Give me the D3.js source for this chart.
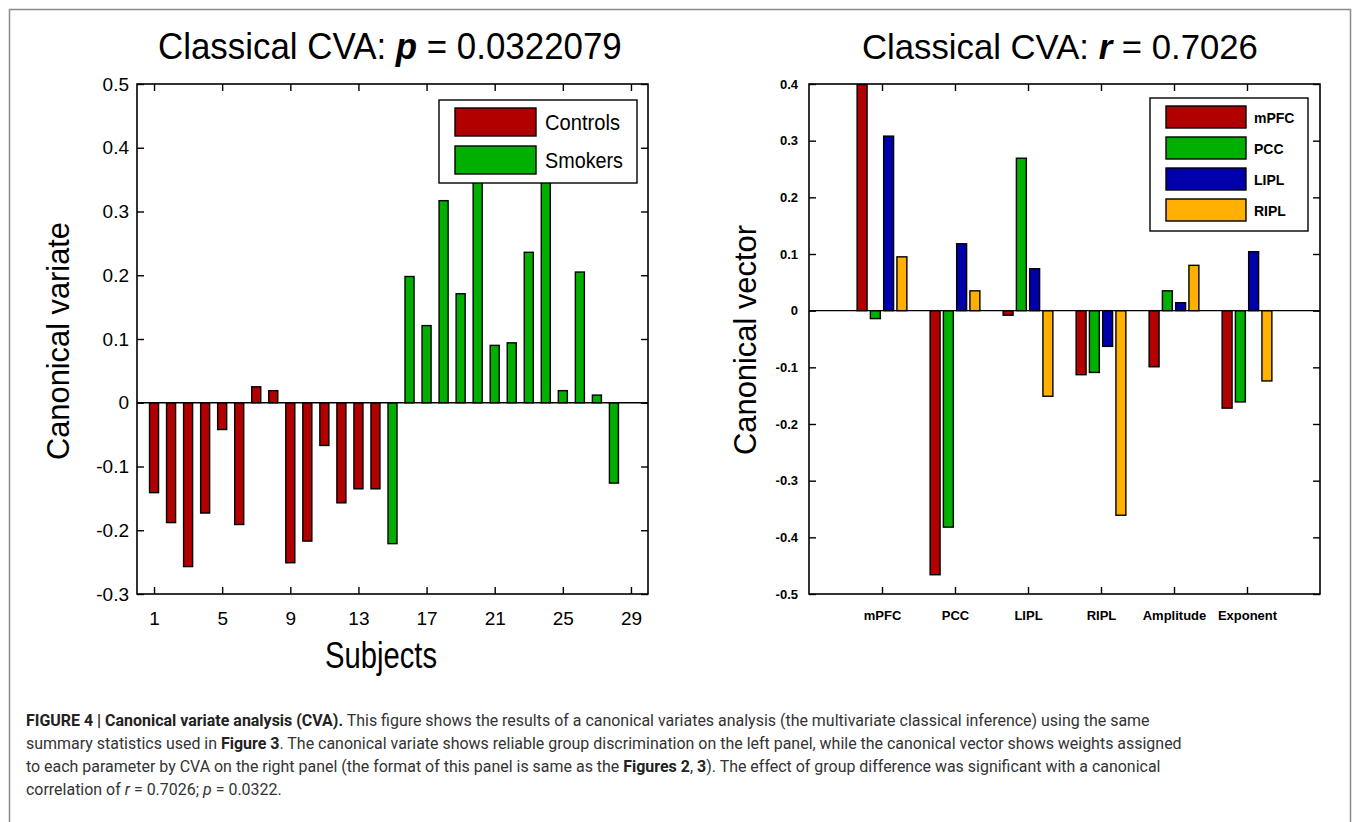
<!DOCTYPE html>
<html>
<head>
<meta charset="utf-8">
<script src="https://cdn.jsdelivr.net/npm/d3@7"></script>
<style>
  body { margin: 0; background: #fff; }
  svg { display: block; }
</style>
</head>
<body>
<svg id="fig" width="1355" height="822"></svg>
<script>
// left panel: canonical variate per subject
var subjects = [1,2,3,4,5,6,7,8,9,10,11,12,13,14,15,16,17,18,19,20,21,22,23,24,25,26,27,28];
var subjectGroup = ["Controls","Controls","Controls","Controls","Controls","Controls","Controls",
    "Controls","Controls","Controls","Controls","Controls","Controls","Controls",
    "Smokers","Smokers","Smokers","Smokers","Smokers","Smokers","Smokers",
    "Smokers","Smokers","Smokers","Smokers","Smokers","Smokers","Smokers"];
var canonVariate = [-0.141, -0.188, -0.257, -0.173, -0.042, -0.191, 0.025, 0.019, -0.251, -0.217,
    -0.067, -0.157, -0.135, -0.135, -0.221, 0.198, 0.121, 0.317, 0.171, 0.37,
    0.090, 0.094, 0.236, 0.39, 0.019, 0.205, 0.012, -0.126];
var groups = ["Controls", "Smokers"];
var xTicksLeft = [1, 5, 9, 13, 17, 21, 25, 29];
var yTicksLeft = [-0.3, -0.2, -0.1, 0, 0.1, 0.2, 0.3, 0.4, 0.5];

// right panel: canonical vector per parameter and region
var params = ["mPFC", "PCC", "LIPL", "RIPL", "Amplitude", "Exponent"];
var regions = ["mPFC", "PCC", "LIPL", "RIPL"];
var vec_mPFC = [0.399, -0.466, -0.008, -0.113, -0.099, -0.172];
var vec_PCC  = [-0.014, -0.382, 0.269, -0.109, 0.035, -0.161];
var vec_LIPL = [0.308, 0.118, 0.074, -0.063, 0.014, 0.104];
var vec_RIPL = [0.095, 0.035, -0.151, -0.361, 0.080, -0.124];
var yTicksRight = [-0.5, -0.4, -0.3, -0.2, -0.1, 0, 0.1, 0.2, 0.3, 0.4];

var groupColor = {Controls: "#b20000", Smokers: "#00b000"};
var regionColor = {mPFC: "#b20000", PCC: "#00b000", LIPL: "#0000aa", RIPL: "#ffb000"};

var svg = d3.select("#fig");
var plotFont = "'Liberation Sans', Arial, sans-serif";
var fmt = function (d) { return (Math.round(d * 10) / 10).toString(); };

// squeeze a text horizontally so it spans the given width (keeps tspans in flow)
function fitText(t, x, y, width) {
    var w = t.node().getComputedTextLength();
    t.attr("transform", "translate(" + x + "," + y + ") scale(" + (width / w) + ",1)");
    return width / w;
}

// outer figure frame
svg.append("rect").attr("x", 9.5).attr("y", 9.5).attr("width", 1341).attr("height", 840)
    .attr("fill", "none").attr("stroke", "#8a8a8a").attr("stroke-width", 1.5);

var box = {top: 84, bottom: 594};

// ---------- left panel ----------
var L = {left: 137, right: 648};
var xL = d3.scaleLinear().domain([0, 30]).range([L.left, L.right]);
var yL = d3.scaleLinear().domain([-0.3, 0.5]).range([box.bottom, box.top]);
var gL = svg.append("g");

var barW = (xL(1) - xL(0)) * 0.53;
gL.selectAll(".bar").data(subjects).enter().append("rect")
    .attr("class", "bar")
    .attr("x", function (d) { return xL(d) - barW / 2; })
    .attr("y", function (d, i) { return yL(Math.max(0, canonVariate[i])); })
    .attr("width", barW)
    .attr("height", function (d, i) { return Math.abs(yL(canonVariate[i]) - yL(0)); })
    .attr("fill", function (d, i) { return groupColor[subjectGroup[i]]; })
    .attr("stroke", "#000").attr("stroke-width", 1.4);

gL.append("line").attr("x1", L.left).attr("x2", L.right).attr("y1", yL(0)).attr("y2", yL(0))
    .attr("stroke", "#000").attr("stroke-width", 1.3);

function styleAxis(g, size, weight) {
    g.select(".domain").remove();
    g.selectAll(".tick line").attr("stroke", "#000").attr("stroke-width", 1.4);
    g.selectAll("text").attr("font-family", plotFont).attr("font-size", size)
        .attr("font-weight", weight).attr("fill", "#000");
}

gL.append("g").attr("transform", "translate(" + L.left + ",0)")
    .call(d3.axisLeft(yL).tickValues(yTicksLeft).tickSize(-7).tickPadding(8).tickFormat(fmt))
    .call(styleAxis, 19, "normal");
gL.append("g").attr("transform", "translate(" + L.right + ",0)")
    .call(d3.axisRight(yL).tickValues(yTicksLeft).tickSize(-7).tickFormat(""))
    .call(styleAxis, 19, "normal");
gL.append("g").attr("transform", "translate(0," + box.bottom + ")")
    .call(d3.axisBottom(xL).tickValues(xTicksLeft).tickSize(-7).tickPadding(18).tickFormat(d3.format("d")))
    .call(styleAxis, 19, "normal");
gL.append("g").attr("transform", "translate(0," + box.top + ")")
    .call(d3.axisTop(xL).tickValues(xTicksLeft).tickSize(-7).tickFormat(""))
    .call(styleAxis, 19, "normal");

gL.append("rect").attr("x", L.left).attr("y", box.top).attr("width", L.right - L.left)
    .attr("height", box.bottom - box.top).attr("fill", "none").attr("stroke", "#000").attr("stroke-width", 1.6);

// legend (drawn over the tallest bars, as in the original)
var legL = gL.append("g").attr("transform", "translate(439,100)");
legL.append("rect").attr("width", 198).attr("height", 83).attr("fill", "#fff")
    .attr("stroke", "#000").attr("stroke-width", 1.4);
legL.selectAll(".item").data(groups).enter().append("g")
    .attr("transform", function (d, i) { return "translate(16," + (8 + i * 38) + ")"; })
    .each(function (d) {
        var g = d3.select(this);
        g.append("rect").attr("width", 81).attr("height", 28).attr("fill", groupColor[d])
            .attr("stroke", "#000").attr("stroke-width", 1.4);
        g.append("text").attr("x", 90).attr("y", 22).text(d)
            .attr("font-family", plotFont).attr("font-size", 22)
            .attr("textLength", d == "Controls" ? 75 : 78).attr("lengthAdjust", "spacingAndGlyphs");
    });

// titles and labels
var t1 = svg.append("text").attr("font-family", plotFont).attr("font-size", 36);
t1.append("tspan").text("Classical CVA: ");
t1.append("tspan").text("p").attr("font-weight", "bold").attr("font-style", "italic");
t1.append("tspan").text(" = 0.0322079");
fitText(t1, 158, 59, 464);

svg.append("text").attr("transform", "translate(58,341) rotate(-90)").attr("text-anchor", "middle")
    .attr("dy", "0.35em").attr("font-family", plotFont).attr("font-size", 31)
    .attr("textLength", 238).attr("lengthAdjust", "spacingAndGlyphs").text("Canonical variate");

svg.append("text").attr("x", 381).attr("y", 668).attr("text-anchor", "middle")
    .attr("font-family", plotFont).attr("font-size", 37)
    .attr("textLength", 112).attr("lengthAdjust", "spacingAndGlyphs").text("Subjects");

// ---------- right panel ----------
var R = {left: 809, right: 1320};
var xR = d3.scaleLinear().domain([0, 7]).range([R.left, R.right]);
var yR = d3.scaleLinear().domain([-0.5, 0.4]).range([box.bottom, box.top]);
var groupW = (xR(1) - xR(0)) * 0.727;
var xSub = d3.scaleBand().domain(regions).range([-groupW / 2, groupW / 2]).paddingInner(0.25).paddingOuter(0.125);
var gR = svg.append("g");

var series = [
    {region: "mPFC", values: vec_mPFC},
    {region: "PCC", values: vec_PCC},
    {region: "LIPL", values: vec_LIPL},
    {region: "RIPL", values: vec_RIPL}
];
var flat = [];
series.forEach(function (s) {
    s.values.forEach(function (v, i) { flat.push({region: s.region, param: i + 1, value: v}); });
});

gR.selectAll(".bar").data(flat).enter().append("rect")
    .attr("class", "bar")
    .attr("x", function (d) { return xR(d.param) + xSub(d.region); })
    .attr("y", function (d) { return yR(Math.max(0, d.value)); })
    .attr("width", xSub.bandwidth())
    .attr("height", function (d) { return Math.abs(yR(d.value) - yR(0)); })
    .attr("fill", function (d) { return regionColor[d.region]; })
    .attr("stroke", "#000").attr("stroke-width", 1.4);

gR.append("line").attr("x1", R.left).attr("x2", R.right).attr("y1", yR(0)).attr("y2", yR(0))
    .attr("stroke", "#000").attr("stroke-width", 1.3);

var paramTicks = [1, 2, 3, 4, 5, 6];
gR.append("g").attr("transform", "translate(" + R.left + ",0)")
    .call(d3.axisLeft(yR).tickValues(yTicksRight).tickSize(-7).tickPadding(11).tickFormat(fmt))
    .call(styleAxis, 13, "bold");
gR.append("g").attr("transform", "translate(" + R.right + ",0)")
    .call(d3.axisRight(yR).tickValues(yTicksRight).tickSize(-7).tickFormat(""))
    .call(styleAxis, 13, "bold");
gR.append("g").attr("transform", "translate(0," + box.bottom + ")")
    .call(d3.axisBottom(xR).tickValues(paramTicks).tickSize(-7).tickPadding(17)
        .tickFormat(function (d) { return params[d - 1]; }))
    .call(styleAxis, 13, "bold");
gR.append("g").attr("transform", "translate(0," + box.top + ")")
    .call(d3.axisTop(xR).tickValues(paramTicks).tickSize(-7).tickFormat(""))
    .call(styleAxis, 13, "bold");

gR.append("rect").attr("x", R.left).attr("y", box.top).attr("width", R.right - R.left)
    .attr("height", box.bottom - box.top).attr("fill", "none").attr("stroke", "#000").attr("stroke-width", 1.6);

var legR = gR.append("g").attr("transform", "translate(1150,98)");
legR.append("rect").attr("width", 158).attr("height", 133).attr("fill", "#fff")
    .attr("stroke", "#000").attr("stroke-width", 1.4);
legR.selectAll(".item").data(regions).enter().append("g")
    .attr("transform", function (d, i) { return "translate(16," + (8 + i * 31) + ")"; })
    .each(function (d) {
        var g = d3.select(this);
        g.append("rect").attr("width", 80).attr("height", 22).attr("fill", regionColor[d])
            .attr("stroke", "#000").attr("stroke-width", 1.4);
        g.append("text").attr("x", 88).attr("y", 17).text(d)
            .attr("font-family", plotFont).attr("font-size", 14).attr("font-weight", "bold");
    });

var t2 = svg.append("text").attr("font-family", plotFont).attr("font-size", 36);
t2.append("tspan").text("Classical CVA: ");
t2.append("tspan").text("r").attr("font-weight", "bold").attr("font-style", "italic");
t2.append("tspan").text(" = 0.7026");
fitText(t2, 862, 59, 396);

svg.append("text").attr("transform", "translate(745,340) rotate(-90)").attr("text-anchor", "middle")
    .attr("dy", "0.35em").attr("font-family", plotFont).attr("font-size", 31)
    .attr("textLength", 230).attr("lengthAdjust", "spacingAndGlyphs").text("Canonical vector");

// ---------- caption ----------
var captionLines = [
    [["b", "FIGURE 4 | Canonical variate analysis (CVA)."], ["n", " This figure shows the results of a canonical variates analysis (the multivariate classical inference) using the same"]],
    [["n", "summary statistics used in "], ["b", "Figure 3"], ["n", ". The canonical variate shows reliable group discrimination on the left panel, while the canonical vector shows weights assigned"]],
    [["n", "to each parameter by CVA on the right panel (the format of this panel is same as the "], ["b", "Figures 2"], ["n", ", "], ["b", "3"], ["n", "). The effect of group difference was significant with a canonical"]],
    [["n", "correlation of "], ["i", "r"], ["n", " = 0.7026; "], ["i", "p"], ["n", " = 0.0322."]]
];
var cap = svg.append("g");
var capTexts = captionLines.map(function (line, li) {
    var t = cap.append("text")
        .attr("font-family", "Roboto, 'Liberation Sans', sans-serif").attr("font-size", 17)
        .attr("fill", "#333");
    line.forEach(function (part) {
        var s = t.append("tspan").text(part[1]);
        if (part[0] == "b") s.attr("font-weight", "bold").attr("fill", "#222");
        if (part[0] == "i") s.attr("font-style", "italic");
    });
    return t;
});
// one common squeeze for all lines, set from the widest line (ends near x=1182)
var capScale = fitText(capTexts[1], 26, 749, 1156);
capTexts.forEach(function (t, li) {
    t.attr("transform", "translate(26," + (726 + li * 23) + ") scale(" + capScale + ",1)");
});
</script>
</body>
</html>
